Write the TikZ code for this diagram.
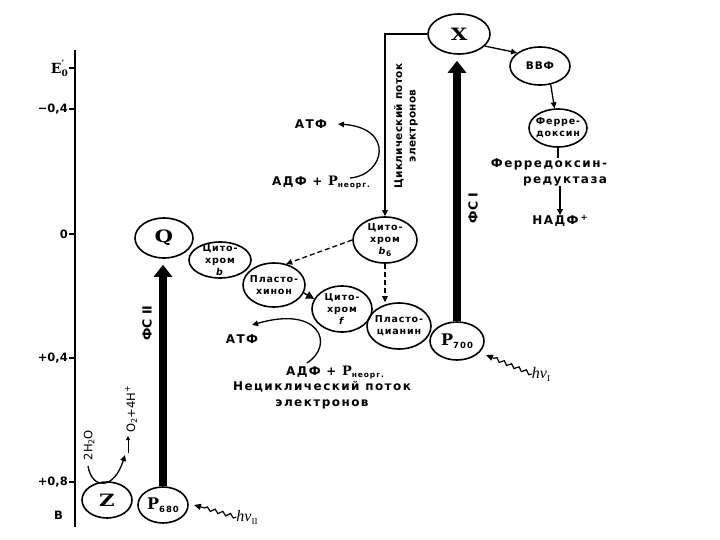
\documentclass[tikz,border=0pt]{standalone}
\usepackage{fontspec}
\usepackage{graphicx}
\setmainfont{Liberation Serif}
\newfontfamily\lab[LetterSpace=12]{DejaVu Sans}
\newfontfamily\labc[LetterSpace=9]{DejaVu Sans}
\newfontfamily\labs[LetterSpace=3]{DejaVu Sans}
\newfontfamily\labn{DejaVu Sans}
\newfontfamily\serifw{DejaVu Serif}
\usetikzlibrary{shapes.geometric,arrows.meta,decorations.pathmorphing}
\newcommand\wideL[1]{\scalebox{1.25}[1]{#1}}
\newcommand\Pin[1]{{\serifw\bfseries\fontsize{16}{16}\selectfont P}{\lab\bfseries\fontsize{8.5}{8.5}\selectfont\raisebox{-3pt}{#1}}}
\newcommand\Pneorg{{\serifw\bfseries\fontsize{13}{13}\selectfont P}{\lab\bfseries\fontsize{7.5}{7.5}\selectfont\raisebox{-2pt}{неорг.}}}
\newcommand\hnu[1]{{\itshape\fontsize{16}{16}\selectfont hν}{\fontsize{9}{9}\selectfont\raisebox{-3pt}{#1}}}
\begin{document}
\begin{tikzpicture}[x=1pt,y=-1pt,
 carlbl/.style={align=center, inner sep=0pt, font=\labc\bfseries\fontsize{9.5}{12}\selectfont},
 carrier/.style={ellipse, draw, line width=1.6pt, inner sep=0pt, label={[carlbl]center:{#1}}},
 bigc/.style={ellipse, draw, line width=1.6pt, inner sep=0pt, font=\serifw\bfseries\fontsize{17}{17}\selectfont},
 txt/.style={font=\lab\bfseries\fontsize{12}{16}\selectfont, inner sep=0pt, align=center},
 axl/.style={font=\labn\bfseries\fontsize{11.5}{11.5}\selectfont, anchor=east, inner sep=1pt},
 psarr/.style={line width=7.5pt, -{Triangle[length=12pt,width=18pt]}, shorten >=6pt},
 ln/.style={line width=1.3pt, -{Triangle[length=6pt,width=5.5pt]}},
 dsh/.style={ln, dash pattern=on 5pt off 3pt},
 wave/.style={line width=1.2pt, -{Triangle[length=7pt,width=6pt]}, decorate, decoration={snake, amplitude=1.8pt, segment length=8pt, post length=8pt}},
 rot/.style={rotate=90, inner sep=0pt, align=center}]
\useasboundingbox (0,0) rectangle (720,540);
% axis
\coordinate (axtop) at (75,50);
\coordinate (axbot) at (75,527);
\draw[line width=1.8pt] (axtop) -- (axbot);
\foreach \yy/\tt in {68/{},109/{−0,4},234/{0},358/{+0,4},482/{+0,8}}{
  \draw[line width=1.3pt] (69,\yy) -- (75,\yy);
  \node[axl] at (69,\yy) {\tt};
}
\node[font=\serifw\bfseries\fontsize{14}{14}\selectfont, anchor=east, inner sep=1pt] (E0) at (69,68) {E\makebox[0pt][l]{\raisebox{6pt}{\fontsize{10}{10}\selectfont ′}}\raisebox{-3pt}{\fontsize{9}{9}\selectfont 0}};
\node[axl] (Bv) at (64,515) {В};
% carriers
\node[bigc, minimum width=58pt, minimum height=40pt] (Q) at (164,238) {\wideL{Q}};
\node[carrier={Цито-\\хром\\\textit{\bfseries b}}, minimum width=62pt, minimum height=36pt] (cytb) at (220,260) {};
\node[carrier={Пласто-\\хинон}, minimum width=62pt, minimum height=44pt] (pq) at (274,285) {};
\node[carrier={Цито-\\хром\\\textit{\bfseries f}}, minimum width=60pt, minimum height=46pt] (cytf) at (342,309) {};
\node[carrier={Пласто-\\цианин}, minimum width=64pt, minimum height=46pt] (pc) at (399,326) {};
\node[bigc, minimum width=54pt, minimum height=38pt] (P700) at (457,341) {\Pin{700}};
\node[carrier={Цито-\\хром\\\textit{\bfseries b}\raisebox{-2pt}{\fontsize{7.5}{7.5}\selectfont 6}}, minimum width=64pt, minimum height=46pt] (b6) at (385,240) {};
\node[bigc, minimum width=62pt, minimum height=40pt] (X) at (459,34) {\wideL{X}};
\node[carrier={\fontsize{10.5}{11}\selectfont ВВФ}, minimum width=60pt, minimum height=38pt] (BBF) at (540,66) {};
\node[carrier={Ферре-\\доксин}, minimum width=58pt, minimum height=38pt] (Fd) at (558,128) {};
\node[bigc, minimum width=50pt, minimum height=36pt] (P680) at (163,505) {\Pin{680}};
\node[bigc, minimum width=50pt, minimum height=36pt] (Z) at (107,500) {\wideL{Z}};
% texts
\node[txt, align=right] (fdr) at (549,172) {Ферредоксин-\\редуктаза};
\node[txt] (nadp) at (560,221) {НАДФ\,\raisebox{4pt}{\fontsize{8.5}{8.5}\selectfont +}};
\node[txt] (atp1) at (311,124) {АТФ};
\node[txt] (adp1) at (321,183) {АДФ + \Pneorg};
\node[txt] (atp2) at (242,339) {АТФ};
\node[txt] (adp2) at (335,373) {АДФ + \Pneorg};
\node[txt] (ncyc) at (322,395) {Нециклический поток\\электронов};
\node[rot, font=\labs\bfseries\fontsize{10.5}{13.5}\selectfont] (cyct) at (406,126) {Циклический поток\\электронов};
\node[rot, font=\labn\bfseries\fontsize{12.5}{12.5}\selectfont] (ps1) at (473,208) {ФС I};
\node[rot, font=\labn\bfseries\fontsize{12.5}{12.5}\selectfont] (ps2) at (147,323) {ФС II};
\node[rot, font=\labn\fontsize{11.5}{12}\selectfont] (h2o) at (89,445) {2H\raisebox{-2pt}{\fontsize{8}{8}\selectfont 2}O};
\node[rot, font=\labn\fontsize{11.5}{12}\selectfont] (o2) at (131,409) {O\raisebox{-2pt}{\fontsize{8}{8}\selectfont 2}+4H\raisebox{5pt}{\fontsize{8}{8}\selectfont +}};
\node[inner sep=0pt] (hv2) at (247,517) {\hnu{II}};
\node[inner sep=0pt] (hv1) at (541,374) {\hnu{I}};
% photosystem arrows
\draw[psarr] (P680.north) -- (P680.north |- Q.south);
\draw[psarr] (P700.north) -- (P700.north |- X.south);
% cyclic flow
\coordinate (cyc) at (b6.north |- X.west);
\draw[ln] (X.west) -- (cyc) -- (b6.north);
% electron path
\draw[ln] (X.-25) -- (BBF.150);
\draw[ln] (BBF.-60) -- (Fd.100);
\draw[line width=2.2pt] (Fd.south) -- (Fd.south |- fdr.north);
\draw[ln] (nadp.north |- fdr.south) -- (nadp.north);
\draw[dsh] (b6.west) -- (pq.60);
\draw[dsh] (b6.south) -- (b6.south |- pc.north);
\draw[line width=1.5pt, -{Triangle[length=8pt,width=8pt]}] (pq.-15) -- (cytf.160);
% ATP curves
\coordinate (c1s) at (350,178);
\coordinate (c1e) at (338,124);
\draw[ln] (c1s) .. controls (385,175) and (395,128) .. (c1e);
\coordinate (c2s) at (307,363);
\coordinate (c2e) at (252,325);
\draw[ln] (c2s) .. controls (335,345) and (320,305) .. (c2e);
% water oxidation
\coordinate (w1) at (88,466);
\coordinate (w2) at (125,455);
\draw[ln] (w1) .. controls (92,490) and (114,490) .. (w2);
\coordinate (o2a) at (128,453);
\coordinate (o2b) at (128,436);
\draw[line width=1pt, -{Triangle[length=4pt,width=4pt]}] (o2a) -- (o2b);
% light
\coordinate (t2) at (194,505);
\coordinate (t1) at (486,355);
\draw[wave] (hv2.west) -- (t2);
\draw[wave] (hv1.west) -- (t1);
\end{tikzpicture}
\end{document}
